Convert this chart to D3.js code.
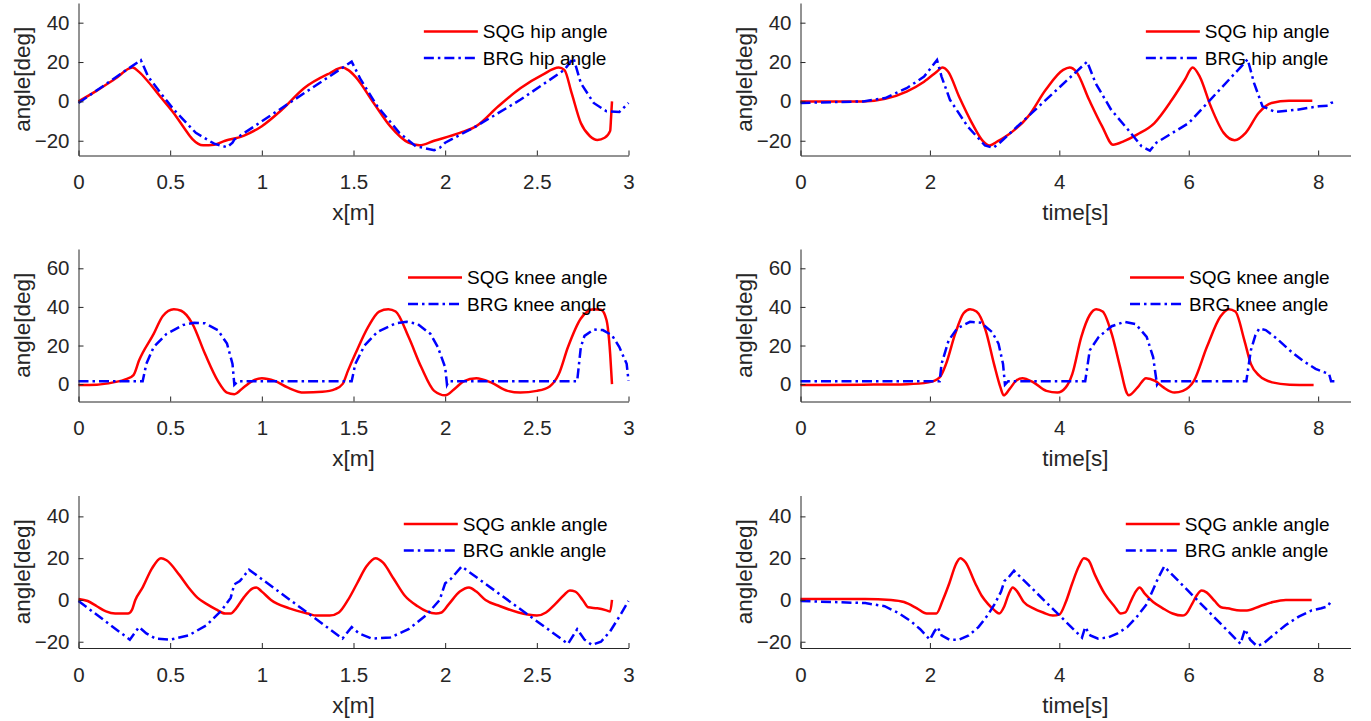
<!DOCTYPE html>
<html>
<head>
<meta charset="utf-8">
<script src="https://cdn.jsdelivr.net/npm/d3@7"></script>
<style>
  html, body { margin: 0; padding: 0; background: #fff; }
  svg { display: block; font-family: "Liberation Sans", Arial, sans-serif; }
</style>
</head>
<body>
<div id="chart"></div>
<script>
// Joint angles of SQG vs BRG gaits, vs walked distance (left) and vs time (right).
// Each series is [x, angle] pairs.

var xTicksDist = [0, 0.5, 1, 1.5, 2, 2.5, 3];
var xTicksTime = [0, 2, 4, 6, 8];
var yTicksHip = [-20, 0, 20, 40];
var yTicksKnee = [0, 20, 40, 60];
var yTicksAnkle = [-20, 0, 20, 40];

var sqgHipDist = [[0,0],[0.1,5.5],[0.2,11.5],[0.295,17.2],[0.33,15],[0.38,10],[0.45,2],[0.52,-6],[0.58,-14],[0.62,-19],[0.68,-22.3],[0.74,-22],[0.8,-20],[0.9,-17.5],[1.0,-12.6],[1.11,-4.2],[1.23,6.7],[1.37,14.3],[1.44,17.2],[1.47,16],[1.51,12.6],[1.61,-0.8],[1.7,-12.6],[1.8,-21],[1.86,-22.3],[1.94,-20],[2.08,-16],[2.17,-12.6],[2.29,-2.5],[2.41,6.7],[2.53,13.5],[2.62,17.2],[2.65,16],[2.69,4.2],[2.74,-11],[2.79,-17.7],[2.83,-19.6],[2.87,-18.5],[2.9,-15],[2.905,-8],[2.91,0]];
var brgHipDist = [[0,-0.8],[0.34,21],[0.38,12.6],[0.45,4],[0.52,-4.2],[0.64,-16],[0.74,-21.5],[0.81,-23.3],[0.84,-21],[0.85,-19.4],[1.49,20.2],[1.54,11],[1.63,-2.5],[1.75,-16],[1.84,-22.8],[1.94,-24.8],[1.97,-23.6],[2.0,-21],[2.17,-12.6],[2.41,0.8],[2.65,16],[2.7,22],[2.74,9.3],[2.81,-0.8],[2.88,-5],[2.95,-5.4],[3.0,-0.8]];

var sqgHipTime = [[0,0],[0.97,0],[1.31,1.3],[1.64,5],[1.91,10],[2.11,15.2],[2.19,17.2],[2.28,15.2],[2.45,2.5],[2.65,-11],[2.82,-20.2],[2.92,-22.4],[3.05,-20.2],[3.25,-16],[3.52,-7.6],[3.79,5.9],[4.06,16],[4.16,17.2],[4.26,15.2],[4.46,0.8],[4.66,-12.6],[4.83,-22],[5.0,-20.2],[5.2,-16.9],[5.47,-11],[5.74,0.8],[5.94,11],[6.06,17.2],[6.17,12.6],[6.34,-2.5],[6.54,-16],[6.71,-19.7],[6.88,-16],[7.08,-5.9],[7.28,-0.8],[7.55,0.3],[7.91,0.3]];
var brgHipTime = [[0,-0.8],[0.97,0],[1.31,1.7],[1.64,6.7],[1.91,12.6],[2.11,21],[2.18,12.6],[2.31,0.8],[2.58,-12.6],[2.85,-22.4],[2.98,-23.6],[3.08,-21],[4.43,20.2],[4.56,9.3],[4.8,-4.2],[5.06,-14.3],[5.27,-22.8],[5.4,-25],[5.5,-21],[6.0,-11],[6.81,17.7],[6.91,21.4],[7.01,9.3],[7.14,-2.5],[7.34,-5.4],[7.68,-4.2],[8.01,-2.5],[8.15,-2.2],[8.2,-0.8],[8.28,0]];

var sqgKneeDist = [[0,-0.5],[0.1,-0.3],[0.19,0.9],[0.26,2.6],[0.3,4.7],[0.33,12.2],[0.41,26],[0.46,35.3],[0.52,38.8],[0.56,38],[0.62,31.5],[0.69,15.7],[0.76,1.7],[0.81,-4.4],[0.85,-5.2],[0.9,-1.7],[0.95,1.7],[1.0,3.1],[1.07,1.7],[1.14,-1.7],[1.23,-4.4],[1.33,-4],[1.4,-2.6],[1.44,0],[1.47,7],[1.51,15.7],[1.58,29.7],[1.64,37.6],[1.69,38.8],[1.73,37.6],[1.8,24.5],[1.87,8.7],[1.94,-3.5],[2.0,-5.8],[2.06,-1.7],[2.1,1.4],[2.17,3.1],[2.25,0.9],[2.34,-3.5],[2.41,-4.4],[2.5,-3.5],[2.57,-1.2],[2.62,5.2],[2.67,19.2],[2.74,34],[2.81,38.8],[2.85,38.5],[2.88,33.2],[2.9,15.7],[2.91,0]];
var brgKneeDist = [[0,1.5],[0.35,1.5],[0.37,10.5],[0.41,19.2],[0.48,26],[0.57,30.6],[0.63,31.8],[0.69,31.5],[0.76,28],[0.81,21],[0.84,10.5],[0.85,-0.3],[0.87,1.5],[1.49,1.5],[1.51,10.5],[1.56,20],[1.63,27],[1.73,31.5],[1.79,32.3],[1.85,31.1],[1.92,26],[1.96,19.2],[2.0,8.7],[2.01,-0.3],[2.02,1.5],[2.72,1.5],[2.74,19.2],[2.76,25],[2.81,28.3],[2.86,28],[2.91,25.3],[2.95,19.2],[2.99,10.5],[3.0,1.7]];

var sqgKneeTime = [[0,-0.5],[0.97,-0.3],[1.65,0],[1.98,0.9],[2.15,3.5],[2.25,10.5],[2.39,26],[2.52,36.7],[2.62,38.8],[2.72,37.6],[2.86,28],[2.99,10.5],[3.09,-1.7],[3.14,-5.8],[3.23,-2.6],[3.33,1.7],[3.43,3.1],[3.6,0.9],[3.8,-3.5],[3.97,-4.4],[4.1,-1.7],[4.2,5.2],[4.34,24.5],[4.47,35.8],[4.57,38.8],[4.67,37.6],[4.81,26],[4.94,8.7],[5.04,-4.4],[5.07,-5.8],[5.21,-1.7],[5.34,3.1],[5.48,1.7],[5.61,-1.7],[5.78,-4.4],[5.91,-3.5],[6.08,1.7],[6.28,19.2],[6.49,35],[6.62,38.8],[6.72,37.6],[6.86,22.7],[6.96,10.5],[7.09,4.4],[7.29,0.9],[7.56,-0.3],[7.93,-0.5]];
var brgKneeTime = [[0,1.5],[2.15,1.5],[2.18,10.5],[2.29,22.7],[2.42,28.8],[2.62,32.3],[2.79,31.8],[2.96,27],[3.06,21],[3.13,10.5],[3.16,-0.3],[3.21,1.5],[4.4,1.5],[4.47,17.5],[4.61,24.5],[4.81,30],[5.01,32.3],[5.18,31.1],[5.35,24.5],[5.45,14],[5.51,-0.3],[5.55,1.5],[6.89,1.5],[6.96,17.5],[7.03,25.3],[7.09,28.8],[7.19,28],[7.36,23.6],[7.56,17.5],[7.76,12.2],[7.96,7.9],[8.1,6.1],[8.17,5.2],[8.2,1.5],[8.3,1.5]];

var sqgAnkleDist = [[0,0.5],[0.05,-0.5],[0.1,-3],[0.15,-5.5],[0.2,-6.5],[0.27,-6.5],[0.29,-5],[0.31,0],[0.35,6],[0.4,15],[0.45,20],[0.48,19],[0.55,12],[0.6,6],[0.65,1],[0.7,-2],[0.75,-4.5],[0.8,-6.5],[0.83,-6.5],[0.86,-4],[0.9,1],[0.95,5.5],[0.97,6],[1.0,4],[1.05,0],[1.15,-4],[1.25,-6.5],[1.3,-7.5],[1.37,-7.5],[1.42,-6],[1.47,0],[1.52,8],[1.57,16],[1.62,20],[1.66,18],[1.72,10],[1.78,2],[1.85,-3],[1.9,-5.5],[1.95,-6.5],[1.98,-6],[2.02,-2],[2.08,4],[2.13,6],[2.17,4],[2.22,0],[2.3,-3],[2.4,-6],[2.45,-7],[2.5,-7.5],[2.55,-6],[2.6,-2],[2.65,2.5],[2.68,4.5],[2.71,4],[2.75,0],[2.78,-3.5],[2.83,-4],[2.88,-5],[2.9,-5.5],[2.91,0]];
var brgAnkleDist = [[0,-0.5],[0.28,-19],[0.33,-13],[0.37,-16],[0.42,-18.5],[0.5,-19],[0.6,-17],[0.7,-12],[0.78,-5],[0.83,1],[0.85,7.5],[0.88,9],[0.93,14.5],[1.44,-18.5],[1.49,-13],[1.53,-16],[1.6,-18.5],[1.7,-18],[1.8,-14],[1.9,-7],[1.97,0],[2.0,8],[2.03,10],[2.09,16],[2.67,-21],[2.72,-14],[2.76,-19],[2.8,-21.5],[2.85,-20],[2.9,-15],[2.95,-8],[3.0,-0.5]];

var sqgAnkleTime = [[0,0.5],[1.0,0.5],[1.4,0],[1.6,-1],[1.8,-4],[1.95,-6.5],[2.1,-6.5],[2.2,0],[2.3,8],[2.4,17],[2.47,20],[2.55,18],[2.7,8],[2.8,2],[2.9,-2],[3.0,-5],[3.07,-6.5],[3.15,-3],[3.22,3],[3.28,6],[3.35,4],[3.45,-1],[3.6,-4],[3.75,-6],[3.9,-7.5],[4.0,-7],[4.1,-1],[4.2,8],[4.3,16],[4.38,20],[4.45,19],[4.55,12],[4.7,3],[4.85,-3],[4.95,-6.5],[5.02,-6],[5.1,-1],[5.18,4],[5.24,6],[5.32,3],[5.45,-1],[5.6,-4],[5.75,-6.5],[5.9,-7.5],[5.95,-7],[6.05,-2],[6.12,2],[6.2,4.5],[6.28,3.5],[6.4,-0.5],[6.5,-3.5],[6.6,-4],[6.8,-5],[6.9,-5],[7.1,-3],[7.3,-1],[7.5,0],[7.9,0]];
var brgAnkleTime = [[0,-0.5],[1.0,-1.5],[1.3,-3],[1.5,-6],[1.7,-10],[1.85,-14],[2.0,-19],[2.07,-15],[2.12,-13],[2.18,-17],[2.3,-19],[2.45,-19],[2.6,-17],[2.75,-13],[2.9,-7],[3.0,-2],[3.1,4],[3.15,9],[3.22,11],[3.3,14],[4.35,-18],[4.4,-13],[4.48,-17],[4.6,-18.5],[4.75,-18],[4.9,-16],[5.05,-13],[5.2,-8],[5.35,-2],[5.45,5],[5.52,10],[5.62,16],[6.8,-21],[6.87,-14],[6.95,-19],[7.05,-22],[7.15,-21],[7.3,-17],[7.5,-12],[7.7,-8],[7.9,-5],[8.05,-4],[8.15,-3],[8.2,-0.5]];

var W = 1371, H = 721;
var axisCol = "#262626";
var red = "#ff0000", blue = "#0000ff";
var tickFont = 20.5, labelFont = 22.5, legendFont = 19;

var svg = d3.select("#chart").append("svg").attr("width", W).attr("height", H);

var cols = [
  { left: 78.5, xDomain: [0, 3], xTicks: xTicksDist, xLabel: "x[m]" },
  { left: 800.5, xDomain: [0, 8.5], xTicks: xTicksTime, xLabel: "time[s]" }
];
var rows = [
  { top: 3, yDomain: [-27.5, 50], yTicks: yTicksHip, name: "hip", data: [[sqgHipDist, brgHipDist], [sqgHipTime, brgHipTime]] },
  { top: 249, yDomain: [-9, 70], yTicks: yTicksKnee, name: "knee", data: [[sqgKneeDist, brgKneeDist], [sqgKneeTime, brgKneeTime]] },
  { top: 495.5, yDomain: [-23, 50], yTicks: yTicksAnkle, name: "ankle", data: [[sqgAnkleDist, brgAnkleDist], [sqgAnkleTime, brgAnkleTime]] }
];
var pw = 550, ph = 152.5;

function styleAxis(sel) {
  sel.select(".domain").attr("stroke", axisCol).attr("stroke-width", 1);
  sel.selectAll(".tick line").attr("stroke", axisCol);
  sel.selectAll("text").attr("fill", axisCol).attr("font-size", tickFont + "px")
    .attr("font-family", "Liberation Sans, Arial, sans-serif");
}

rows.forEach(function (r) {
  cols.forEach(function (c, ci) {
    var g = svg.append("g").attr("transform", "translate(" + c.left + "," + r.top + ")");
    var x = d3.scaleLinear().domain(c.xDomain).range([0, pw]);
    var y = d3.scaleLinear().domain(r.yDomain).range([ph, 0]);

    var line = d3.line().x(function (p) { return x(p[0]); }).y(function (p) { return y(p[1]); });
    var smooth = d3.line().curve(d3.curveMonotoneX)
      .x(function (p) { return x(p[0]); }).y(function (p) { return y(p[1]); });

    var pair = r.data[ci];
    g.append("path").datum(pair[0]).attr("fill", "none").attr("stroke", red)
      .attr("stroke-width", 2.5).attr("stroke-linejoin", "round").attr("d", smooth);
    g.append("path").datum(pair[1]).attr("fill", "none").attr("stroke", blue)
      .attr("stroke-width", 2.5).attr("stroke-dasharray", "10,4,2.5,4").attr("d", line);

    g.append("g").attr("transform", "translate(0," + ph + ")")
      .call(d3.axisBottom(x).tickValues(c.xTicks).tickFormat(String).tickSizeInner(-5).tickSizeOuter(0).tickPadding(19))
      .call(styleAxis);
    g.append("g")
      .call(d3.axisLeft(y).tickValues(r.yTicks).tickSizeInner(-5).tickSizeOuter(0).tickPadding(9))
      .call(styleAxis);

    g.append("text").attr("x", pw / 2).attr("y", ph + 57).attr("dy", "0.35em")
      .attr("text-anchor", "middle").attr("font-size", labelFont + "px").attr("fill", axisCol).text(c.xLabel);
    g.append("text").attr("transform", "translate(-56," + (ph / 2) + ") rotate(-90)")
      .attr("dy", "0.35em").attr("text-anchor", "middle").attr("font-size", labelFont + "px")
      .attr("fill", axisCol).text("angle[deg]");

    // legend, right-aligned inside the axes, no box
    var lg = g.append("g").attr("font-size", legendFont + "px");
    var labels = ["SQG " + r.name + " angle", "BRG " + r.name + " angle"];
    var texts = labels.map(function (t, i) {
      return lg.append("text").attr("y", 28.5 + i * 26.5).attr("dy", "0.35em").attr("fill", "#000").text(t);
    });
    var tw = d3.max(texts, function (t) { return t.node().getComputedTextLength(); });
    var tx = pw - 21 - tw;
    texts.forEach(function (t) { t.attr("x", tx); });
    lg.append("line").attr("x1", tx - 59).attr("x2", tx - 5).attr("y1", 28.5).attr("y2", 28.5)
      .attr("stroke", red).attr("stroke-width", 2.5);
    lg.append("line").attr("x1", tx - 59).attr("x2", tx - 5).attr("y1", 55).attr("y2", 55)
      .attr("stroke", blue).attr("stroke-width", 2.5).attr("stroke-dasharray", "10,4,2.5,4");
  });
});
</script>
</body>
</html>
